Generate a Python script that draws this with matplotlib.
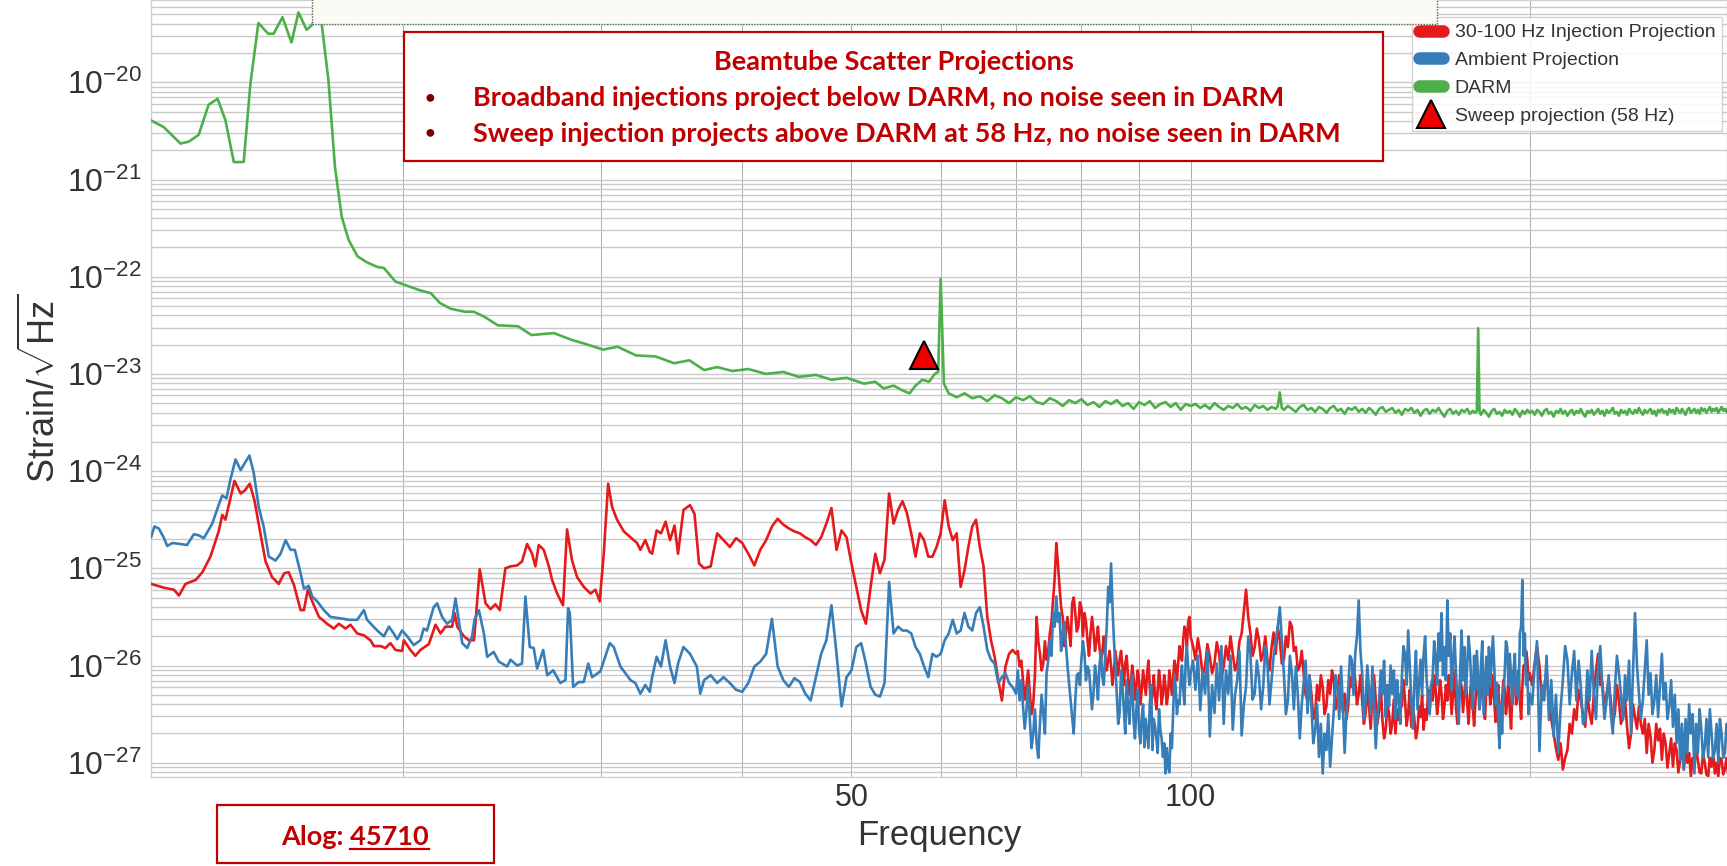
import numpy as np
import matplotlib
matplotlib.use("Agg")
import matplotlib.pyplot as plt
from matplotlib.lines import Line2D
from matplotlib.patches import Rectangle
from matplotlib.ticker import FixedLocator, NullFormatter

plt.rcParams['font.family'] = ['Liberation Sans', 'DejaVu Sans']
plt.rcParams['mathtext.fontset'] = 'custom'
plt.rcParams['mathtext.rm'] = 'Liberation Sans'
plt.rcParams['mathtext.it'] = 'Liberation Sans:italic'
plt.rcParams['mathtext.bf'] = 'Liberation Sans:bold'

ROJO = '#e41a1c'
AZUL = '#377eb8'
VERDE = '#4daf4a'
GRIS_TEXTO = '#333333'
ROJO_NOTA = '#c00000'

# ---- datos: frecuencia (Hz) y log10 de la ASD (strain/sqrt(Hz)) ----

# DARM
darm_freq = [11.94, 12.26, 12.69, 12.91, 13.17, 13.44, 13.69, 13.91, 14.15, 14.44,
             14.64, 14.88, 15.18, 15.35, 15.63, 15.92, 16.15, 16.42, 16.60, 16.82,
             16.94, 17.17, 17.40, 17.64, 17.89, 18.22, 18.56, 18.98, 19.23, 19.69,
             20.13, 20.70, 21.17, 21.56, 22.05, 22.69, 23.10, 23.60, 24.27, 25.30,
             26.00, 27.22, 28.23, 29.00, 30.10, 31.00, 32.20, 33.50, 34.80, 35.90,
             37.0, 38.0, 39.2, 40.5, 42.0, 43.5, 44.9, 46.5, 48.0, 49.5,
             51.3, 52.5, 53.4, 54.5, 55.5, 56.3, 57.0, 57.8, 58.6, 59.3,
             59.7, 60.0, 60.4, 61.0,
             62, 63, 64, 65, 66, 67, 68, 69, 70, 71, 72, 73, 74, 75, 76, 77, 78, 79, 80,
             81, 82, 83, 84, 85, 86, 87, 88, 89, 90, 91, 92, 93, 94, 95, 96, 97, 98, 99, 100,
             101, 102, 103, 104, 105, 106, 107, 108, 109, 110,
             111, 112, 113, 114, 115, 116, 117, 118, 119, 119.5, 120, 120.5,
             121, 122, 123, 124, 125, 126, 127, 128, 129, 130,
             131, 132, 133, 134, 135, 136, 137, 138, 139, 140,
             141, 142, 143, 144, 145, 146, 147, 148, 149, 150,
             151, 152, 153, 154, 155, 156, 157, 158, 159, 160,
             161, 162, 163, 164, 165, 166, 167, 168, 169, 170,
             171, 172, 173, 174, 175, 176, 177, 178, 179, 179.5, 180, 180.5,
             181, 182, 183, 184, 185, 186, 187, 188, 189, 190,
             191, 192, 193, 194, 195, 196, 197, 198, 199, 200,
             201, 202, 203, 204, 205, 206, 207, 208, 209, 210,
             211, 212, 213, 214, 215, 216, 217, 218, 219, 220,
             221, 222, 223, 224, 225, 226, 227, 228, 229, 230,
             231, 232, 233, 234, 235, 236, 237, 238, 239, 240,
             241, 242, 243, 244, 245, 246, 247, 248, 249, 250,
             251, 252, 253, 254, 255, 256, 257, 258, 259, 260,
             261, 262, 263, 264, 265, 266, 267, 268, 269, 270,
             271, 272, 273, 274, 275, 276, 277, 278, 279, 280,
             281, 282, 283, 284, 285, 286, 287, 288, 289, 290,
             291, 292, 293, 294, 295, 296, 297, 298, 299, 300]
darm_log = [-20.39, -20.46, -20.63, -20.61, -20.54, -20.23, -20.17, -20.39, -20.82, -20.82,
            -20.01, -19.39, -19.50, -19.50, -19.33, -19.59, -19.28, -19.46, -19.41, -19.29,
            -19.41, -19.98, -20.87, -21.38, -21.62, -21.79, -21.85, -21.90, -21.91, -22.05,
            -22.09, -22.14, -22.17, -22.27, -22.33, -22.36, -22.36, -22.41, -22.50, -22.51,
            -22.60, -22.58, -22.65, -22.69, -22.75, -22.72, -22.81, -22.82, -22.89, -22.86,
            -22.96, -22.93, -22.97, -22.95, -23.00, -22.98, -23.03, -23.01, -23.06, -23.04,
            -23.10, -23.08, -23.15, -23.12, -23.17, -23.20, -23.12, -23.06, -23.08, -23.00,
            -22.98, -22.02, -23.10, -23.20,
            -23.24, -23.20, -23.25, -23.23, -23.28, -23.22, -23.25, -23.30, -23.24, -23.27,
            -23.23, -23.29, -23.31, -23.25, -23.28, -23.33, -23.27, -23.30, -23.26,
            -23.32, -23.29, -23.34, -23.28, -23.31, -23.27, -23.33, -23.30, -23.36, -23.29,
            -23.32, -23.28, -23.35, -23.31, -23.29, -23.34, -23.30, -23.37, -23.31, -23.33,
            -23.31, -23.35, -23.32, -23.36, -23.30, -23.34, -23.37, -23.33, -23.35, -23.31,
            -23.36, -23.34, -23.38, -23.32, -23.35, -23.33, -23.37, -23.34, -23.36, -23.33, -23.19, -23.35,
            -23.37, -23.33, -23.36, -23.39, -23.34, -23.32, -23.37, -23.35, -23.39, -23.34,
            -23.36, -23.40, -23.35, -23.33, -23.38, -23.36, -23.41, -23.35, -23.37, -23.34,
            -23.39, -23.36, -23.40, -23.35, -23.38, -23.42, -23.36, -23.34, -23.39, -23.37,
            -23.35, -23.40, -23.37, -23.42, -23.36, -23.38, -23.35, -23.40, -23.37, -23.43,
            -23.38, -23.36, -23.41, -23.37, -23.39, -23.35, -23.40, -23.44, -23.38, -23.36,
            -23.41, -23.38, -23.42, -23.37, -23.39, -23.36, -23.41, -23.38, -23.40, -23.38, -22.53, -23.39,
            -23.42, -23.37, -23.40, -23.44, -23.38, -23.36, -23.41, -23.39, -23.43, -23.37,
            -23.40, -23.38, -23.42, -23.36, -23.39, -23.44, -23.38, -23.41, -23.37, -23.40,
            -23.38, -23.42, -23.37, -23.39, -23.43, -23.38, -23.36, -23.41, -23.39, -23.44,
            -23.38, -23.40, -23.36, -23.41, -23.38, -23.43, -23.39, -23.37, -23.42, -23.38,
            -23.40, -23.36, -23.41, -23.44, -23.38, -23.40, -23.37, -23.42, -23.39, -23.36,
            -23.41, -23.38, -23.43, -23.37, -23.40, -23.38, -23.35, -23.41, -23.39, -23.43,
            -23.37, -23.40, -23.38, -23.42, -23.36, -23.39, -23.41, -23.37, -23.40, -23.35,
            -23.39, -23.42, -23.37, -23.40, -23.38, -23.36, -23.41, -23.38, -23.43, -23.37,
            -23.39, -23.36, -23.40, -23.38, -23.42, -23.36, -23.39, -23.37, -23.41, -23.35,
            -23.38, -23.40, -23.36, -23.39, -23.42, -23.37, -23.35, -23.40, -23.38, -23.36,
            -23.40, -23.37, -23.41, -23.35, -23.38, -23.36, -23.40, -23.37, -23.34, -23.39,
            -23.36, -23.38, -23.35, -23.40, -23.37, -23.34, -23.38, -23.36, -23.39, -23.35]

# proyeccion de la inyeccion 30-100 Hz, tramo bajo (< 37 Hz)
iny_freq_baja = [11.95, 12.27, 12.52, 12.65, 12.82, 13.09, 13.27, 13.49, 13.72, 13.82,
                 13.91, 14.04, 14.17, 14.35, 14.47, 14.62, 14.76, 14.94, 15.10, 15.30,
                 15.51, 15.69, 15.83, 16.00, 16.22, 16.33, 16.46, 16.61, 16.84, 17.12,
                 17.36, 17.54, 17.78, 17.96, 18.21, 18.46, 18.71, 18.84, 19.10, 19.29,
                 19.49, 19.69, 19.96, 20.03, 20.30, 20.51, 20.72, 21.08, 21.37, 21.59,
                 21.81, 22.11, 22.22, 22.34, 22.65, 22.88, 23.12, 23.39, 23.67, 23.91,
                 24.15, 24.37, 24.65, 24.91, 25.25, 25.50, 25.77, 26.03, 26.21, 26.39,
                 26.66, 26.94, 27.12, 27.40, 27.73, 27.96, 28.25, 28.54, 28.93, 29.34,
                 29.63, 29.89, 30.14, 30.41, 30.66, 30.97, 31.40, 31.83, 32.26, 32.48,
                 32.81, 33.11, 33.27, 33.58, 33.88, 34.20, 34.51, 34.83, 35.08, 35.47,
                 35.95, 36.28, 36.62]
iny_log_baja = [-25.16, -25.20, -25.22, -25.28, -25.16, -25.12, -25.04, -24.88, -24.62, -24.45,
                -24.50, -24.30, -24.10, -24.23, -24.20, -24.13, -24.30, -24.64, -24.93, -25.09,
                -25.16, -25.05, -25.04, -25.17, -25.43, -25.43, -25.22, -25.34, -25.50, -25.57,
                -25.62, -25.57, -25.62, -25.58, -25.67, -25.69, -25.74, -25.80, -25.80, -25.82,
                -25.77, -25.84, -25.85, -25.74, -25.84, -25.90, -25.84, -25.78, -25.58, -25.67,
                -25.60, -25.60, -25.46, -25.60, -25.70, -25.74, -25.74, -25.01, -25.36, -25.42,
                -25.37, -25.43, -25.00, -24.98, -24.97, -24.93, -24.75, -24.85, -24.98, -24.76,
                -24.81, -24.98, -25.12, -25.26, -25.38, -24.60, -24.92, -25.09, -25.19, -25.26,
                -25.22, -25.34, -24.85, -24.13, -24.37, -24.50, -24.62, -24.68, -24.74, -24.81,
                -24.71, -24.83, -24.85, -24.61, -24.64, -24.52, -24.71, -24.56, -24.85, -24.40,
                -24.35, -24.44, -24.95]

# proyeccion ambiente, tramo bajo (< 37 Hz)
amb_freq_baja = [11.95, 12.03, 12.14, 12.27, 12.35, 12.48, 12.69, 12.86, 13.04, 13.17,
                 13.31, 13.54, 13.70, 13.82, 13.94, 14.05, 14.20, 14.35, 14.50, 14.61,
                 14.74, 14.89, 15.04, 15.20, 15.41, 15.57, 15.73, 15.89, 16.03, 16.22,
                 16.33, 16.49, 16.61, 16.78, 17.01, 17.24, 17.72, 17.90, 18.21, 18.46,
                 18.58, 18.97, 19.23, 19.43, 19.62, 19.76, 19.96, 20.17, 20.44, 20.72,
                 20.86, 21.00, 21.29, 21.44, 21.66, 21.88, 22.11, 22.26, 22.41, 22.57,
                 22.80, 23.03, 23.14, 23.35, 23.59, 23.75, 24.07, 24.32, 24.74, 24.91,
                 25.25, 25.50, 25.68, 25.91, 26.12, 26.30, 26.63, 26.85, 27.18, 27.58,
                 27.87, 28.02, 28.12, 28.31, 28.64, 28.93, 29.20, 29.43, 29.93, 30.51,
                 30.76, 31.18, 31.83, 32.15, 32.48, 32.81, 33.11, 33.27, 33.58, 33.88,
                 34.20, 34.51, 34.83, 35.08, 35.47, 35.95, 36.45, 36.71]
amb_log_baja = [-24.68, -24.57, -24.59, -24.69, -24.77, -24.74, -24.75, -24.76, -24.65, -24.66,
                -24.69, -24.54, -24.37, -24.25, -24.28, -24.09, -23.88, -23.99, -23.90, -23.84,
                -24.02, -24.37, -24.57, -24.88, -24.92, -24.85, -24.71, -24.81, -24.81, -25.05,
                -25.21, -25.18, -25.29, -25.34, -25.43, -25.50, -25.52, -25.53, -25.53, -25.43,
                -25.53, -25.64, -25.70, -25.60, -25.67, -25.73, -25.64, -25.70, -25.79, -25.74,
                -25.62, -25.64, -25.40, -25.36, -25.50, -25.57, -25.53, -25.31, -25.53, -25.77,
                -25.82, -25.70, -25.53, -25.43, -25.67, -25.91, -25.86, -25.96, -26.01, -25.94,
                -26.00, -25.98, -25.29, -25.81, -25.82, -26.03, -25.84, -26.10, -26.05, -26.18,
                -26.15, -25.41, -25.46, -26.22, -26.17, -26.17, -25.98, -26.12, -26.06, -25.77,
                -25.81, -26.01, -26.15, -26.18, -26.29, -26.20, -26.27, -26.12, -25.91, -26.01,
                -25.74, -26.01, -26.18, -25.98, -25.81, -25.88, -26.01, -26.29]

# tramo alto (37-300 Hz), rejilla comun para las dos proyecciones
freq_alta = [37.0, 37.5, 38.0, 38.5, 39.0, 39.5, 40.0, 40.5, 41.0, 41.5,
             42.0, 42.5, 43.0, 43.5, 44.0, 44.5, 45.0, 45.5, 46.0, 46.5,
             47.0, 47.5, 48.0, 48.5, 49.0, 49.5, 50.0, 50.5, 51.0, 51.5,
             52.0, 52.5, 53.0, 53.5, 54.0, 54.5, 55.0, 55.5, 56.0, 56.5,
             57.0, 57.5, 58.0, 58.5, 59.0, 59.5, 60.0, 60.5, 61.0, 61.5,
             62.0, 62.5, 63.0, 63.5, 64.0, 64.5, 65.0, 65.5, 66.0, 66.5,
             67.0, 67.5, 68.0, 68.5, 69.0, 69.5, 70.0,
             70.25, 70.5, 70.75, 71.0, 71.25, 71.5, 71.75, 72.0, 72.25, 72.5,
             72.75, 73.0, 73.25, 73.5, 73.75, 74.0, 74.25, 74.5, 74.75, 75.0,
             75.25, 75.5, 75.75, 76.0, 76.25, 76.5, 76.75, 77.0, 77.25, 77.5,
             77.75, 78.0, 78.25, 78.5, 78.75, 79.0, 79.25, 79.5, 79.75, 80.0,
             80.25, 80.5, 80.75, 81.0, 81.25, 81.5, 81.75, 82.0, 82.25, 82.5,
             82.75, 83.0, 83.25, 83.5, 83.75, 84.0, 84.25, 84.5, 84.75, 85.0,
             85.25, 85.5, 85.75, 86.0, 86.25, 86.5, 86.75, 87.0, 87.25, 87.5,
             87.75, 88.0, 88.25, 88.5, 88.75, 89.0, 89.25, 89.5, 89.75, 90.0,
             90.25, 90.5, 90.75, 91.0, 91.25, 91.5, 91.75, 92.0, 92.25, 92.5,
             92.75, 93.0, 93.25, 93.5, 93.75, 94.0, 94.25, 94.5, 94.75, 95.0,
             95.25, 95.5, 95.75, 96.0, 96.25, 96.5, 96.75, 97.0, 97.25, 97.5,
             97.75, 98.0, 98.25, 98.5, 98.75, 99.0, 99.25, 99.5, 99.75, 100.0,
             100.5, 101, 101.5, 102, 102.5, 103, 103.5, 104, 104.5, 105,
             105.5, 106, 106.5, 107, 107.5, 108, 108.5, 109, 109.5, 110,
             110.5, 111, 111.5, 112, 112.5, 113, 113.5, 114, 114.5, 115,
             115.5, 116, 116.5, 117, 117.5, 118, 118.5, 119, 119.5, 120,
             120.5, 121, 121.5, 122, 122.5, 123, 123.5, 124, 124.5, 125,
             125.5, 126, 126.5, 127, 127.5, 128, 128.5, 129, 129.5, 130,
             130.5, 131, 131.5, 132, 132.5, 133, 133.5, 134, 134.5, 135,
             135.5, 136, 136.5, 137, 137.5, 138, 138.5, 139, 139.5, 140,
             140.5, 141, 141.5, 142, 142.5, 143, 143.5, 144, 144.5, 145,
             145.5, 146, 146.5, 147, 147.5, 148, 148.5, 149, 149.5, 150,
             150.5, 151, 151.5, 152, 152.5, 153, 153.5, 154, 154.5, 155,
             155.5, 156, 156.5, 157, 157.5, 158, 158.5, 159, 159.5, 160,
             160.5, 161, 161.5, 162, 162.5, 163, 163.5, 164, 164.5, 165,
             165.5, 166, 166.5, 167, 167.5, 168, 168.5, 169, 169.5, 170,
             170.5, 171, 171.5, 172, 172.5, 173, 173.5, 174, 174.5, 175,
             175.5, 176, 176.5, 177, 177.5, 178, 178.5, 179, 179.5, 180,
             180.5, 181, 181.5, 182, 182.5, 183, 183.5, 184, 184.5, 185,
             185.5, 186, 186.5, 187, 187.5, 188, 188.5, 189, 189.5, 190,
             190.5, 191, 191.5, 192, 192.5, 193, 193.5, 194, 194.5, 195,
             195.5, 196, 196.5, 197, 197.5, 198, 198.5, 199, 199.5, 200,
             201, 202, 203, 204, 205, 206, 207, 208, 209, 210,
             211, 212, 213, 214, 215, 216, 217, 218, 219, 220,
             221, 222, 223, 224, 225, 226, 227, 228, 229, 230,
             231, 232, 233, 234, 235, 236, 237, 238, 239, 240,
             241, 242, 243, 244, 245, 246, 247, 248, 249, 250,
             251, 252, 253, 254, 255, 256, 257, 258, 259, 260,
             261, 262, 263, 264, 265, 266, 267, 268, 269, 270,
             271, 272, 273, 274, 275, 276, 277, 278, 279, 280,
             281, 282, 283, 284, 285, 286, 287, 288, 289, 290,
             291, 292, 293, 294, 295, 296, 297, 298, 299, 300]

iny_log_alta = [-25.00, -24.98, -24.64, -24.71, -24.78, -24.69, -24.74, -24.85, -24.97, -24.81,
                -24.71, -24.57, -24.49, -24.55, -24.59, -24.62, -24.64, -24.68, -24.71, -24.76,
                -24.68, -24.54, -24.38, -24.81, -24.61, -24.68, -24.95, -25.19, -25.43, -25.57,
                -25.19, -24.85, -25.05, -24.91, -24.23, -24.54, -24.40, -24.31, -24.43, -24.64,
                -24.88, -24.64, -24.71, -24.88, -24.88, -24.78, -24.64, -24.30, -24.57, -24.71,
                -24.64, -25.19, -25.02, -24.78, -24.57, -24.50, -24.78, -24.98, -25.50, -25.74,
                -25.91, -26.15, -26.36, -26.01, -25.88, -25.84, -25.88,
                -25.85, -26.01, -25.95, -26.15, -26.35, -26.22, -26.05, -26.29, -26.50, -26.39,
                -26.10, -25.50, -25.75, -25.88, -26.05, -25.98, -25.75, -25.94, -25.85, -25.67,
                -25.55, -25.33, -25.10, -24.74, -24.95, -25.19, -25.40, -25.50, -25.80, -25.67,
                -25.50, -25.64, -25.80, -25.36, -25.30, -25.46, -25.65, -25.60, -25.35, -25.40,
                -25.70, -25.46, -25.55, -25.74, -25.90, -25.67, -25.50, -25.64, -25.85, -25.74,
                -25.60, -25.81, -25.95, -25.86, -25.70, -25.91, -26.05, -25.94, -25.85, -26.01,
                -26.20, -26.05, -25.85, -25.98, -26.10, -25.94, -25.85, -26.01, -26.20, -25.98,
                -25.90, -26.12, -26.30, -26.18, -26.00, -26.12, -26.35, -26.22, -26.05, -26.15,
                -26.40, -26.25, -26.05, -26.18, -26.30, -26.08, -25.95, -26.22, -26.40, -26.29,
                -26.10, -26.32, -26.45, -26.25, -26.05, -26.18, -26.40, -26.29, -26.10, -26.22,
                -26.40, -26.29, -26.05, -26.18, -26.30, -26.12, -25.95, -26.01, -26.15, -25.98,
                -25.80, -25.88, -25.95, -25.74, -25.60, -25.64, -25.80, -25.55, -25.50, -25.70,
                -25.80, -25.94, -25.72, -25.88, -26.10, -26.01, -25.78, -25.91, -26.08, -25.98,
                -25.76, -25.88, -26.12, -26.01, -25.80, -25.94, -25.70, -25.88, -26.05, -25.98,
                -25.75, -25.67, -25.45, -25.22, -25.50, -25.67, -25.90, -25.81, -25.62, -25.74,
                -25.95, -25.88, -25.70, -25.94, -26.05, -25.81, -25.66, -25.88, -25.60, -25.74,
                -25.98, -25.94, -25.70, -25.81, -25.55, -25.60, -25.85, -25.81, -26.05, -26.01,
                -25.85, -26.08, -26.30, -26.36, -26.10, -26.29, -26.55, -26.49, -26.20, -26.36,
                -26.10, -26.22, -26.50, -26.42, -26.15, -26.29, -26.05, -26.15, -26.45, -26.36,
                -26.10, -26.22, -26.48, -26.29, -26.55, -26.42, -26.12, -26.22, -26.00, -26.15,
                -26.40, -26.29, -26.10, -26.36, -26.60, -26.49, -26.25, -26.42, -26.65, -26.29,
                -26.10, -26.36, -26.60, -26.46, -26.20, -26.56, -26.75, -26.66, -26.40, -26.49,
                -26.70, -26.60, -26.35, -26.70, -26.45, -26.56, -26.30, -26.42, -26.15, -26.36,
                -26.62, -26.49, -26.25, -26.63, -26.40, -26.56, -26.75, -26.66, -26.42, -26.53,
                -26.30, -26.66, -26.45, -26.56, -26.25, -26.46, -26.20, -26.36, -26.10, -26.25,
                -26.50, -26.36, -26.15, -26.29, -26.55, -26.42, -26.20, -26.36, -26.10, -26.25,
                -26.50, -26.29, -26.05, -26.42, -26.60, -26.36, -26.15, -26.22, -26.48, -26.29,
                -26.10, -26.39, -26.60, -26.32, -26.12, -26.42, -26.62, -26.36, -26.15, -26.22,
                -26.45, -26.29, -26.08, -26.36, -26.55, -26.25, -26.05, -26.18, -26.40, -26.29,
                -26.10, -26.36, -26.58, -26.42, -26.20, -26.49, -26.70, -26.36, -26.15, -26.25,
                -26.50, -26.36, -26.12, -26.46, -26.65, -26.29, -26.05, -26.15, -26.40, -26.25,
                -26.05, -26.36, -26.55, -26.22, -26.00, -26.01, -25.85, -25.94, -26.15, -26.08,
                -26.20, -25.98, -25.80, -26.01, -26.35, -26.22, -26.05, -26.36, -26.55, -26.70,
                -26.85, -26.97, -26.80, -27.07, -26.95, -26.87, -26.60, -26.70, -26.45, -26.56,
                -26.25, -26.36, -26.50, -26.63, -26.30, -26.49, -26.60, -26.29, -26.05, -25.88,
                -26.20, -26.18, -26.45, -26.29, -26.15, -26.36, -26.60, -26.49, -26.20, -26.36,
                -26.60, -26.53, -26.35, -26.63, -26.85, -26.70, -26.40, -26.53, -26.65, -26.42,
                -26.60, -26.70, -26.55, -26.90, -26.60, -26.73, -27.00, -26.87, -26.60, -26.77,
                -26.65, -26.97, -26.70, -26.80, -27.05, -26.90, -26.75, -27.04, -26.80, -26.87,
                -27.10, -26.97, -26.80, -27.07, -26.85, -27.00, -26.90, -27.14, -26.95, -27.04,
                -26.85, -26.97, -27.10, -27.11, -26.90, -27.00, -27.12, -27.14, -26.95, -27.04,
                -26.90, -27.11, -27.00, -27.14, -26.95, -26.97, -27.12, -27.07, -26.95, -27.11]

amb_log_alta = [-26.15, -26.10, -26.18, -26.12, -26.18, -26.25, -26.27, -26.18, -26.01, -25.96,
                -25.88, -25.52, -26.01, -26.15, -26.22, -26.13, -26.17, -26.29, -26.36, -26.12,
                -25.88, -25.74, -25.38, -25.88, -26.42, -26.12, -26.05, -25.81, -25.77, -25.98,
                -26.22, -26.30, -26.32, -26.18, -25.14, -25.67, -25.60, -25.64, -25.64, -25.67,
                -25.81, -25.88, -26.01, -26.12, -25.88, -25.91, -25.88, -25.74, -25.67, -25.53,
                -25.67, -25.64, -25.46, -25.60, -25.64, -25.46, -25.40, -25.60, -25.84, -25.94,
                -25.98, -26.18, -26.12, -26.08, -26.18, -26.22, -26.29,
                -26.05, -26.36, -26.15, -26.42, -26.65, -26.46, -26.20, -26.56, -26.85, -26.70,
                -26.45, -26.80, -26.95, -26.60, -26.30, -26.49, -26.70, -26.08, -25.95, -25.74,
                -25.90, -25.46, -25.60, -25.29, -25.55, -25.46, -25.85, -25.67, -25.55, -25.77,
                -26.00, -26.18, -26.35, -26.53, -26.70, -26.36, -26.10, -26.08, -26.20, -25.94,
                -25.75, -25.88, -26.15, -26.01, -26.05, -26.25, -26.45, -26.29, -26.00, -26.12,
                -26.35, -26.01, -25.85, -26.12, -26.20, -25.88, -25.60, -25.19, -25.35, -24.95,
                -25.40, -25.74, -26.00, -26.29, -26.60, -26.49, -26.05, -26.22, -26.45, -26.70,
                -26.15, -26.42, -26.60, -26.29, -26.10, -26.56, -26.75, -26.46, -26.25, -26.66,
                -26.80, -26.53, -26.40, -26.84, -26.55, -26.70, -26.85, -26.39, -26.20, -26.87,
                -26.55, -26.63, -26.75, -26.90, -26.45, -26.66, -26.75, -26.94, -26.80, -27.11,
                -26.85, -27.04, -27.10, -26.70, -26.85, -26.46, -26.10, -26.22, -26.50, -26.36,
                -26.40, -26.15, -26.00, -26.25, -26.40, -25.94, -25.80, -26.01, -26.20, -26.08,
                -25.95, -26.25, -25.90, -26.46, -26.05, -26.29, -25.85, -26.73, -26.20, -26.49,
                -25.98, -26.36, -25.80, -26.60, -26.05, -26.29, -25.90, -26.66, -26.30, -26.15,
                -25.85, -26.72, -26.40, -26.22, -25.70, -25.88, -26.35, -26.29, -25.95, -26.12,
                -26.45, -26.22, -25.80, -25.98, -26.40, -26.15, -25.90, -25.74, -25.60, -25.40,
                -25.75, -26.08, -26.50, -26.36, -25.90, -26.08, -26.45, -26.01, -26.30, -26.75,
                -26.40, -26.18, -25.95, -26.49, -26.10, -26.42, -26.80, -26.66, -26.40, -26.94,
                -26.60, -27.11, -26.70, -26.87, -26.50, -27.04, -26.75, -26.46, -26.10, -26.22,
                -26.55, -26.01, -26.40, -26.90, -26.50, -26.25, -25.90, -25.94, -26.30, -25.88,
                -25.70, -25.33, -25.85, -26.08, -26.55, -26.36, -26.00, -26.25, -26.50, -26.01,
                -26.40, -26.85, -26.50, -26.36, -26.05, -26.29, -25.95, -26.53, -26.20, -26.42,
                -26.00, -26.29, -26.05, -26.55, -26.15, -26.36, -26.60, -26.12, -25.80, -25.88,
                -26.20, -25.64, -26.00, -26.36, -26.65, -26.18, -25.85, -26.45, -26.20, -25.94,
                -26.30, -25.88, -25.70, -26.15, -26.35, -26.50, -26.20, -26.12, -25.75, -25.91,
                -26.20, -25.67, -25.95, -25.46, -26.10, -25.81, -26.15, -25.33, -25.90, -25.67,
                -26.25, -25.94, -25.70, -26.08, -26.35, -26.60, -26.05, -25.64, -26.15, -25.81,
                -26.30, -26.01, -25.70, -25.88, -26.20, -26.45, -25.90, -26.25, -25.85, -26.15,
                -26.45, -26.01, -25.75, -26.50, -26.20, -25.91, -26.30, -25.81, -26.20, -25.94,
                -25.70, -26.01, -26.40, -26.18, -26.55, -26.85, -26.40, -26.70, -26.30, -26.08,
                -25.75, -25.81, -26.20, -25.88, -26.10, -26.40, -26.05, -25.88, -26.30, -26.12,
                -26.35, -25.67, -25.60, -25.12, -25.90, -25.67, -26.20, -26.08, -26.50, -26.29,
                -26.40, -26.01, -25.75, -26.88, -26.20, -26.36, -25.90, -26.56, -26.15, -26.73,
                -26.30, -26.90, -26.45, -26.15, -25.80, -25.94, -26.40, -26.08, -25.85, -26.36,
                -25.95, -26.22, -26.60, -26.56, -26.05, -26.36, -25.85, -26.29, -26.55, -26.01,
                -25.80, -26.22, -26.55, -26.36, -26.10, -26.49, -26.70, -26.25, -25.90, -26.08,
                -26.30, -26.56, -26.10, -26.36, -25.95, -26.70, -26.05, -25.46, -26.00, -26.29,
                -26.55, -26.36, -26.05, -25.74, -26.30, -26.08, -26.50, -26.36, -26.10, -26.53,
                -26.20, -25.88, -26.35, -26.18, -26.55, -26.42, -26.15, -26.63, -26.30, -26.80,
                -26.45, -26.97, -26.60, -27.07, -26.55, -26.90, -26.40, -26.70, -26.50, -27.11,
                -26.60, -26.90, -26.45, -26.66, -26.95, -26.84, -26.55, -26.94, -26.45, -26.70,
                -26.95, -26.87, -26.60, -27.00, -26.55, -26.70, -26.95, -26.90, -26.60, -26.77]

# barrido: proyeccion a 58 Hz
barrido_freq = [58.0]
barrido_asd = [1.55e-23]

etiquetas = ['30-100 Hz Injection Projection', 'Ambient Projection', 'DARM',
             'Sweep projection (58 Hz)']


def px(x, y):
    # pixeles de la figura (origen arriba a la izquierda) -> fraccion de figura
    return x / 1727.0, 1.0 - y / 866.0


def generar_grafico():
    fig = plt.figure(figsize=(17.27, 8.66), dpi=100)
    izq = 150.7 / 1727.0
    abajo = 89.3 / 866.0
    ax = fig.add_axes([izq, abajo, 1.0 - izq, 1.0 - abajo])

    f_iny = np.concatenate([iny_freq_baja, freq_alta])
    a_iny = 10.0 ** np.concatenate([iny_log_baja, iny_log_alta])
    f_amb = np.concatenate([amb_freq_baja, freq_alta])
    a_amb = 10.0 ** np.concatenate([amb_log_baja, amb_log_alta])

    ax.plot(f_iny, a_iny, color=ROJO, lw=1.9, zorder=3)
    ax.plot(f_amb, a_amb, color=AZUL, lw=1.9, zorder=3.1)
    ax.plot(darm_freq, 10.0 ** np.array(darm_log), color=VERDE, lw=1.9, zorder=3.2)
    ax.plot(barrido_freq, barrido_asd, ls='none', marker='^', ms=20,
            mfc='#ee0000', mec='black', mew=1.5, zorder=4)

    ax.set_xscale('log')
    ax.set_yscale('log')
    ymin, ymax = 7.18e-28, 7.03e-20
    ax.set_xlim(11.94, 299.3)
    ax.set_ylim(ymin, ymax)

    # marcas: solo 50 y 100 rotuladas en x, rejilla en cada decena
    ax.xaxis.set_major_locator(FixedLocator([50, 100]))
    ax.xaxis.set_minor_locator(FixedLocator([20, 30, 40, 60, 70, 80, 90, 200]))
    ax.set_xticklabels(['50', '100'])
    ax.xaxis.set_minor_formatter(NullFormatter())
    mayores = [10.0 ** e for e in range(-27, -19)]
    menores = [m * 10.0 ** e for e in range(-28, -19) for m in range(2, 10)
               if ymin * 1.02 < m * 10.0 ** e < ymax * 0.98]
    ax.yaxis.set_major_locator(FixedLocator(mayores))
    ax.yaxis.set_minor_locator(FixedLocator(menores))
    ax.yaxis.set_minor_formatter(NullFormatter())

    ax.set_axisbelow(True)
    ax.grid(True, which='both', axis='y', color='#c9c9c9', lw=1.0)
    ax.grid(True, which='both', axis='x', color='#ababab', lw=0.7)
    for s in ax.spines.values():
        s.set_color('#d0d0d0')
        s.set_linewidth(1.0)

    ax.tick_params(which='both', length=0, colors=GRIS_TEXTO)
    ax.tick_params(which='major', labelsize=23)
    ax.tick_params(which='minor', labelleft=False, labelbottom=False)
    ax.tick_params(axis='x', which='major', labelsize=22, pad=4.5)
    ax.tick_params(axis='y', which='major', pad=6.3)

    ax.set_xlabel('Frequency', fontsize=25, color=GRIS_TEXTO)
    ax.xaxis.set_label_coords(0.5, -0.054)
    ax.set_ylabel(r'Strain/$\sqrt{\mathrm{Hz}}$', fontsize=26, color=GRIS_TEXTO)
    ax.yaxis.set_label_coords(-0.056, 0.5)

    # leyenda con trazos gruesos redondeados
    manejadores = [Line2D([], [], color=ROJO, lw=9, solid_capstyle='round'),
                   Line2D([], [], color=AZUL, lw=9, solid_capstyle='round'),
                   Line2D([], [], color=VERDE, lw=9, solid_capstyle='round'),
                   Line2D([], [], ls='none', marker='^', ms=20, mfc='#ee0000',
                          mec='black', mew=1.5)]
    ley = ax.legend(manejadores, etiquetas, loc='upper right',
                    bbox_to_anchor=px(1722, 17), bbox_transform=fig.transFigure,
                    fontsize=14, frameon=True, fancybox=False, framealpha=0.85,
                    edgecolor='#cccccc', borderpad=0.35, labelspacing=0.52,
                    handlelength=1.25, handletextpad=0.6, borderaxespad=0)
    for t in ley.get_texts():
        t.set_color(GRIS_TEXTO)

    # caja beige superior
    x0, y0 = px(311.7, 24)
    fig.add_artist(Rectangle((x0, y0), (1437 - 311.7) / 1727.0, 0.05,
                             transform=fig.transFigure, facecolor='#fcfaf5',
                             edgecolor='#4d6b5c', lw=1.0, ls=(0, (1, 1)), zorder=5))

    # recuadro con el resumen
    x0, y0 = px(404, 161)
    fig.add_artist(Rectangle((x0, y0), 979 / 1727.0, 129 / 866.0,
                             transform=fig.transFigure, facecolor='white',
                             edgecolor=ROJO_NOTA, lw=1.6, zorder=5))
    nota = dict(family=['Lato', 'DejaVu Sans'], fontweight='bold', fontsize=19.5,
                color=ROJO_NOTA, zorder=6)
    fig.text(*px(893.5, 70), 'Beamtube Scatter Projections', ha='center',
             va='baseline', **nota)
    lineas = ['Broadband injections project below DARM, no noise seen in DARM',
              'Sweep injection projects above DARM at 58 Hz, no noise seen in DARM']
    for texto, base in zip(lineas, [106.5, 141.5]):
        fig.text(*px(430, base - 9), '\u25CF', ha='center', va='center',
                 fontsize=13, color='#7a0000', zorder=6)
        fig.text(*px(473, base), texto, ha='left', va='baseline', **nota)

    # recuadro del alog
    x0, y0 = px(217, 863)
    fig.add_artist(Rectangle((x0, y0), 277 / 1727.0, 58 / 866.0,
                             transform=fig.transFigure, facecolor='white',
                             edgecolor=ROJO_NOTA, lw=1.6, zorder=5))
    alog = fig.text(*px(355, 845), 'Alog: 45710', ha='center', va='baseline', **nota)
    rend = fig.canvas.get_renderer()
    caja = alog.get_window_extent(rend)
    tmp = fig.text(0, 0, '45710', **nota)
    ancho = tmp.get_window_extent(rend).width
    tmp.remove()
    fig.add_artist(Line2D([(caja.x1 - ancho) / 1727.0, caja.x1 / 1727.0],
                          [1.0 - 848.5 / 866.0] * 2, transform=fig.transFigure,
                          color=ROJO_NOTA, lw=1.6, zorder=6))

    fig.savefig('out.png', dpi=100)


if __name__ == "__main__":
    generar_grafico()
